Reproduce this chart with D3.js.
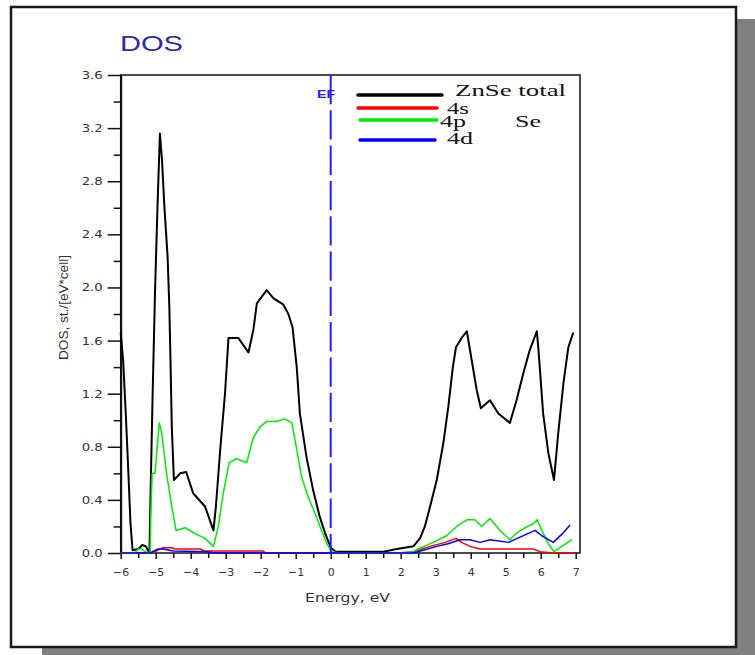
<!DOCTYPE html>
<html>
<head>
<meta charset="utf-8">
<script src="https://cdn.jsdelivr.net/npm/d3@7"></script>
<style>
  html, body { margin: 0; padding: 0; background: #fff; }
  svg { display: block; }
</style>
</head>
<body>
<svg id="chart" width="755" height="655"></svg>
<script>
// Energy (eV) / DOS (states per eV per cell) pairs for each curve
const totalZnSe = [
  [-6.0,1.66],[-5.93,1.45],[-5.85,1.02],[-5.78,0.60],[-5.72,0.22],[-5.66,0.02],[-5.5,0.03],
  [-5.38,0.06],[-5.28,0.05],[-5.18,0.0],[-5.15,0.40],[-5.09,1.17],[-5.02,1.96],[-4.95,2.6],
  [-4.88,3.16],[-4.82,2.96],[-4.75,2.6],[-4.66,2.23],[-4.61,1.85],[-4.58,1.48],[-4.54,0.95],
  [-4.48,0.55],[-4.3,0.6],[-4.13,0.61],[-3.93,0.45],[-3.59,0.35],[-3.35,0.17],[-3.28,0.35],
  [-3.15,0.8],[-3.02,1.2],[-2.92,1.62],[-2.64,1.62],[-2.35,1.51],[-2.21,1.68],[-2.11,1.88],
  [-1.83,1.98],[-1.64,1.92],[-1.35,1.87],[-1.21,1.8],[-1.09,1.7],[-0.97,1.4],[-0.88,1.05],
  [-0.69,0.72],[-0.5,0.47],[-0.31,0.27],[-0.16,0.15],[0.0,0.04],[0.15,0.01],[1.5,0.01],
  [1.89,0.03],[2.36,0.05],[2.55,0.11],[2.69,0.2],[2.84,0.35],[3.03,0.55],[3.22,0.83],
  [3.36,1.1],[3.49,1.4],[3.58,1.55],[3.74,1.62],[3.89,1.67],[4.03,1.45],[4.17,1.23],
  [4.29,1.09],[4.55,1.15],[4.79,1.05],[5.12,0.98],[5.31,1.15],[5.5,1.35],[5.69,1.53],
  [5.89,1.67],[5.93,1.55],[6.07,1.05],[6.22,0.75],[6.38,0.55],[6.5,0.9],[6.65,1.28],
  [6.79,1.55],[6.93,1.66]
];
const se4s = [
  [-6.0,0],[-5.1,0],[-5.02,0.01],[-4.79,0.04],[-4.54,0.04],[-4.45,0.03],[-3.73,0.03],
  [-3.6,0.015],[-1.93,0.015],[-1.85,0],[1.89,0],[2.36,0.01],[2.84,0.05],[3.27,0.08],
  [3.58,0.11],[3.74,0.08],[3.98,0.05],[4.27,0.03],[5.79,0.03],[5.98,0.01],[6.36,0],[6.93,0]
];
const se4p = [
  [-6.0,0],[-5.6,0],[-5.5,0.03],[-5.4,0.03],[-5.3,0.01],[-5.16,0],[-5.14,0.3],[-5.1,0.6],
  [-5.02,0.6],[-4.9,0.98],[-4.83,0.91],[-4.69,0.6],[-4.54,0.35],[-4.42,0.17],[-4.16,0.19],
  [-3.83,0.14],[-3.59,0.11],[-3.35,0.05],[-3.21,0.2],[-3.07,0.45],[-2.9,0.68],[-2.69,0.71],
  [-2.4,0.68],[-2.21,0.87],[-2.02,0.95],[-1.83,0.99],[-1.54,0.99],[-1.31,1.01],[-1.11,0.98],
  [-0.97,0.78],[-0.83,0.57],[-0.64,0.42],[-0.45,0.3],[-0.26,0.17],[-0.11,0.07],[0.03,0.01],
  [0.27,0],[2.07,0],[2.36,0.01],[2.5,0.03],[2.93,0.08],[3.31,0.13],[3.6,0.2],[3.89,0.25],
  [4.12,0.25],[4.31,0.2],[4.55,0.26],[4.84,0.17],[5.12,0.1],[5.31,0.15],[5.55,0.19],
  [5.79,0.22],[5.9,0.25],[6.07,0.15],[6.22,0.07],[6.38,0.01],[6.6,0.05],[6.89,0.1]
];
const se4d = [
  [-6.0,0],[-5.16,0],[-4.93,0.03],[-4.79,0.03],[-4.5,0.015],[-3.5,0.01],[-3.3,0],[2.36,0],
  [2.64,0.02],[3.03,0.05],[3.35,0.07],[3.7,0.1],[3.98,0.1],[4.27,0.08],[4.55,0.1],[5.08,0.08],
  [5.41,0.12],[5.84,0.17],[6.03,0.13],[6.36,0.08],[6.6,0.14],[6.84,0.21]
];

const seriesNames = ["ZnSe total", "4s", "4p", "4d"];
const seriesColors = ["#000000", "#ff0000", "#00ee00", "#0000ff"];
const xTicks = [-6,-5,-4,-3,-2,-1,0,1,2,3,4,5,6,7];
const xMinorTicks = [-5.5,-4.5,-3.5,-2.5,-1.5,-0.5,0.5,1.5,2.5,3.5,4.5,5.5,6.5];
const yTicks = [0,0.4,0.8,1.2,1.6,2.0,2.4,2.8,3.2,3.6];
const yMinorTicks = [0.2,0.6,1.0,1.4,1.8,2.2,2.6,3.0,3.4];
const fermiEnergy = 0;

const svg = d3.select("#chart");

// Sheet with a drop shadow
svg.append("rect").attr("x", 42).attr("y", 19).attr("width", 730).attr("height", 650)
  .attr("fill", "#808080");
svg.append("rect").attr("x", 11).attr("y", 7).attr("width", 725).attr("height", 640)
  .attr("fill", "#fff").attr("stroke", "#1a1a1a").attr("stroke-width", 2.5);

const plotLeft = 120.7, plotRight = 580, plotTop = 75, plotBottom = 553;
const x = d3.scaleLinear().domain([-6, 7]).range([plotLeft, 575.7]);
const y = d3.scaleLinear().domain([0, 3.6]).range([plotBottom, plotTop]);

// Title
svg.append("text").attr("x", 120).attr("y", 51)
  .attr("font-family", "Liberation Sans, Arial, sans-serif").attr("font-size", 22)
  .attr("fill", "#2a2aa6").attr("textLength", 63).attr("lengthAdjust", "spacingAndGlyphs")
  .text("DOS");

// Plot frame
svg.append("rect").attr("x", plotLeft).attr("y", plotTop)
  .attr("width", plotRight - plotLeft).attr("height", plotBottom - plotTop)
  .attr("fill", "none").attr("stroke", "#111").attr("stroke-width", 1.5);

const tickFont = "DejaVu Sans, Verdana, sans-serif";

// Y axis: major labelled ticks and minor ticks
const yAxis = svg.append("g").attr("transform", `translate(${plotLeft},0)`)
  .call(d3.axisLeft(y).tickValues(yTicks).tickSize(13).tickPadding(5).tickSizeOuter(0)
    .tickFormat(d => d.toFixed(1)));
yAxis.select(".domain").attr("stroke", "#111").attr("stroke-width", 2);
yAxis.selectAll(".tick line").attr("stroke", "#111").attr("stroke-width", 1.5);
yAxis.selectAll("text").attr("font-family", tickFont).attr("font-size", 11)
  .attr("fill", "#333").attr("textLength", 21).attr("lengthAdjust", "spacingAndGlyphs");

const yMinor = svg.append("g").attr("transform", `translate(${plotLeft},0)`)
  .call(d3.axisLeft(y).tickValues(yMinorTicks).tickSize(7).tickFormat(""));
yMinor.select(".domain").remove();
yMinor.selectAll(".tick line").attr("stroke", "#111").attr("stroke-width", 1.5);

// X axis
const xAxis = svg.append("g").attr("transform", `translate(0,${plotBottom})`)
  .call(d3.axisBottom(x).tickValues(xTicks).tickSize(6).tickPadding(9).tickSizeOuter(0)
    .tickFormat(d => d < 0 ? "\u2212" + Math.abs(d) : String(d)));
xAxis.select(".domain").remove();
xAxis.selectAll(".tick line").attr("stroke", "#111").attr("stroke-width", 1.5);
xAxis.selectAll("text").attr("font-family", tickFont).attr("font-size", 11).attr("fill", "#333");

const xMinor = svg.append("g").attr("transform", `translate(0,${plotBottom})`)
  .call(d3.axisBottom(x).tickValues(xMinorTicks).tickSize(5).tickFormat(""));
xMinor.select(".domain").remove();
xMinor.selectAll(".tick line").attr("stroke", "#111").attr("stroke-width", 1.5);

// Axis titles
svg.append("text").attr("x", 305).attr("y", 602)
  .attr("font-family", tickFont).attr("font-size", 13).attr("fill", "#333")
  .attr("textLength", 85).attr("lengthAdjust", "spacingAndGlyphs")
  .text("Energy, eV");
svg.append("text").attr("transform", "translate(68,360) rotate(-90)")
  .attr("font-family", "Liberation Sans, Arial, sans-serif").attr("font-size", 13).attr("fill", "#333")
  .attr("textLength", 105).attr("lengthAdjust", "spacingAndGlyphs")
  .text("DOS, st./[eV*cell]");

// Curves
const line = d3.line().x(d => x(d[0])).y(d => y(d[1]));
const curves = [totalZnSe, se4s, se4p, se4d];
const widths = [2, 1.5, 1.5, 1.5];
curves.forEach((data, i) => {
  svg.append("path").datum(data).attr("d", line)
    .attr("fill", "none").attr("stroke", seriesColors[i])
    .attr("stroke-width", widths[i]).attr("stroke-linejoin", "round");
});

// Fermi level
svg.append("line").attr("x1", x(fermiEnergy)).attr("x2", x(fermiEnergy))
  .attr("y1", plotTop).attr("y2", plotBottom)
  .attr("stroke", "#1f1fff").attr("stroke-width", 2).attr("stroke-dasharray", "29.3,6");
svg.append("text").attr("x", 317).attr("y", 97.5)
  .attr("font-family", "Liberation Sans, Arial, sans-serif").attr("font-size", 11)
  .attr("font-weight", "bold").attr("fill", "#1f1fff")
  .attr("textLength", 18).attr("lengthAdjust", "spacingAndGlyphs")
  .text("EF");

// Legend
const legendRows = [
  { x1: 358, x2: 442, ly: 95,  tx: 455, ty: 96,  len: 111 },
  { x1: 358, x2: 437, ly: 108, tx: 447, ty: 114, len: 22 },
  { x1: 360, x2: 437, ly: 120, tx: 440, ty: 127, len: 26 },
  { x1: 360, x2: 435, ly: 140, tx: 447, ty: 144, len: 26 }
];
const serif = "Liberation Serif, Times New Roman, serif";
legendRows.forEach((r, i) => {
  svg.append("line").attr("x1", r.x1).attr("x2", r.x2).attr("y1", r.ly).attr("y2", r.ly)
    .attr("stroke", seriesColors[i]).attr("stroke-width", 3.5).attr("stroke-linecap", "round");
  svg.append("text").attr("x", r.tx).attr("y", r.ty)
    .attr("font-family", serif).attr("font-size", 16).attr("fill", "#111")
    .attr("textLength", r.len).attr("lengthAdjust", "spacingAndGlyphs")
    .text(seriesNames[i]);
});
svg.append("text").attr("x", 515).attr("y", 127)
  .attr("font-family", serif).attr("font-size", 16).attr("fill", "#111")
  .attr("textLength", 26).attr("lengthAdjust", "spacingAndGlyphs")
  .text("Se");
</script>
</body>
</html>
